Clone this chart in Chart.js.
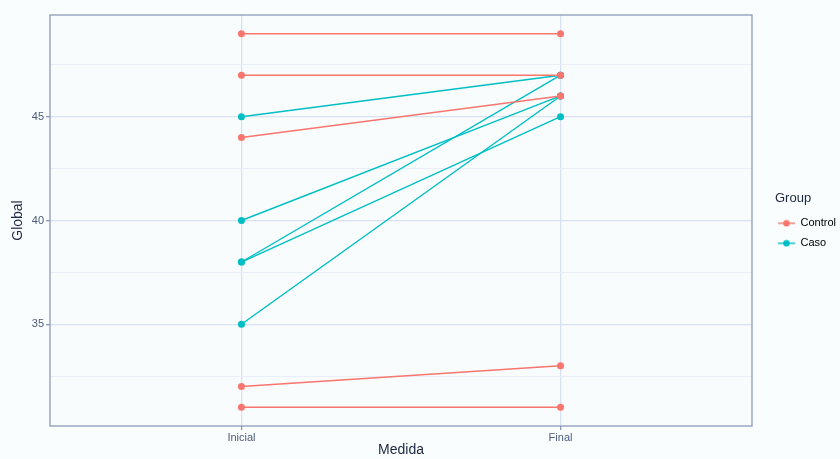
<!DOCTYPE html>
<html>
<head>
<meta charset="utf-8">
<script src="https://cdn.jsdelivr.net/npm/chart.js@4/dist/chart.umd.min.js"></script>
<style>
  html, body { margin: 0; padding: 0; background: #f9fdfd; }
  #wrap { width: 840px; height: 459px; }
</style>
</head>
<body>
<div id="wrap"><canvas id="chart" width="840" height="459"></canvas></div>
<script>
// values
var measures = ['Inicial', 'Final'];
var groups = ['Control', 'Caso'];
var groupColors = ['#F8766D', '#00BFC4'];
var controlInicial = [49, 47, 44, 32, 31];
var controlFinal = [49, 47, 46, 33, 31];
var casoInicial = [45, 40, 38, 38, 35];
var casoFinal = [47, 46, 47, 45, 46];
var yMajor = [35, 40, 45];
var yMinor = [32.5, 37.5, 42.5, 47.5];

var fontFamily = "'Liberation Sans', Arial, sans-serif";
var tickColor = '#4d5b7c';
var titleColor = '#1d2742';
var borderColor = '#8c9bb9';

// one line per subject
var datasets = [];
function addGroup(g, first, last) {
    for (var i = 0; i < first.length; i++) {
        datasets.push({
            label: groups[g],
            data: [{ x: 1, y: first[i] }, { x: 2, y: last[i] }],
            borderColor: groupColors[g],
            backgroundColor: groupColors[g],
            borderWidth: 1.4,
            pointRadius: 3.5,
            pointBorderWidth: 0,
            pointHoverRadius: 3.5,
            fill: false
        });
    }
}
addGroup(0, controlInicial, controlFinal);
addGroup(1, casoInicial, casoFinal);

// legend key: small line with a dot, like ggplot
function keyGlyph(color) {
    var c = document.createElement('canvas');
    c.width = 17;
    c.height = 8;
    var ctx = c.getContext('2d');
    ctx.strokeStyle = color;
    ctx.lineWidth = 1.4;
    ctx.beginPath();
    ctx.moveTo(0, 4);
    ctx.lineTo(17, 4);
    ctx.stroke();
    ctx.fillStyle = color;
    ctx.beginPath();
    ctx.arc(8.5, 4, 3.3, 0, Math.PI * 2);
    ctx.fill();
    return c;
}

var panelBorder = {
    id: 'panelBorder',
    beforeDraw: function (chart) {
        var a = chart.chartArea;
        var ctx = chart.ctx;
        ctx.save();
        ctx.fillStyle = '#f8fcfd';
        ctx.fillRect(a.left, a.top, a.right - a.left, a.bottom - a.top);
        ctx.restore();
    },
    afterDraw: function (chart) {
        var a = chart.chartArea;
        var ctx = chart.ctx;
        ctx.save();
        ctx.strokeStyle = borderColor;
        ctx.lineWidth = 1.3;
        ctx.strokeRect(a.left, a.top, a.right - a.left, a.bottom - a.top);
        ctx.restore();
    }
};

// keep the legend column at a fixed width and nudge it like ggplot's guide box
var legendWidth = {
    id: 'legendWidth',
    afterInit: function (chart) {
        var lg = chart.legend;
        var fit = lg.fit;
        var draw = lg.draw;
        var drawTitle = lg.drawTitle;
        lg.fit = function () {
            fit.call(this);
            this.width = 88;
        };
        lg.draw = function () {
            this.ctx.save();
            this.ctx.translate(17, -12);
            draw.call(this);
            this.ctx.restore();
        };
        lg.drawTitle = function () {
            this.ctx.save();
            this.ctx.translate(6, 0);
            drawTitle.call(this);
            this.ctx.restore();
        };
    }
};

var ctx = document.getElementById('chart').getContext('2d');
var chart = new Chart(ctx, {
    type: 'line',
    data: { datasets: datasets },
    plugins: [panelBorder, legendWidth],
    options: {
        responsive: false,
        animation: false,
        layout: { padding: { top: 15, right: 0, left: 0, bottom: 0 } },
        plugins: {
            tooltip: { enabled: false },
            legend: {
                position: 'right',
                align: 'center',
                title: {
                    display: true,
                    text: 'Group',
                    position: 'start',
                    color: titleColor,
                    font: { family: fontFamily, size: 13 },
                    padding: { top: 0, bottom: 1, left: 0 }
                },
                labels: {
                    usePointStyle: true,
                    pointStyleWidth: 17,
                    boxHeight: 11,
                    padding: 9,
                    color: titleColor,
                    font: { family: fontFamily, size: 11 },
                    generateLabels: function () {
                        return groups.map(function (g, i) {
                            return {
                                text: g,
                                pointStyle: keyGlyph(groupColors[i]),
                                fillStyle: groupColors[i],
                                strokeStyle: groupColors[i],
                                lineWidth: 0,
                                hidden: false,
                                datasetIndex: i
                            };
                        });
                    }
                }
            }
        },
        scales: {
            x: {
                type: 'linear',
                min: 0.4,
                max: 2.6,
                afterBuildTicks: function (scale) {
                    scale.ticks = measures.map(function (m, i) { return { value: i + 1 }; });
                },
                afterFit: function (scale) { scale.height = 33; },
                ticks: {
                    color: tickColor,
                    font: { family: fontFamily, size: 11 },
                    padding: 1,
                    maxRotation: 0,
                    callback: function (v) { return measures[v - 1]; }
                },
                grid: {
                    color: '#d9e1f4',
                    lineWidth: 1.3,
                    tickLength: 4,
                    tickColor: borderColor
                },
                border: { display: false },
                title: {
                    display: true,
                    text: 'Medida',
                    color: titleColor,
                    font: { family: fontFamily, size: 14 },
                    padding: { top: 0, bottom: 0 }
                }
            },
            y: {
                type: 'linear',
                min: 30.1,
                max: 49.9,
                afterBuildTicks: function (scale) {
                    scale.ticks = yMinor.concat(yMajor).sort(function (a, b) { return a - b; })
                        .map(function (v) { return { value: v }; });
                },
                afterFit: function (scale) { scale.width = 50; },
                ticks: {
                    color: tickColor,
                    font: { family: fontFamily, size: 11 },
                    padding: 2,
                    callback: function (v) { return yMajor.indexOf(v) >= 0 ? String(v) : ''; }
                },
                grid: {
                    color: function (c) { return yMajor.indexOf(c.tick.value) >= 0 ? '#d9e1f4' : '#e9eef8'; },
                    lineWidth: function (c) { return yMajor.indexOf(c.tick.value) >= 0 ? 1.3 : 1; },
                    tickLength: 4,
                    tickColor: function (c) { return yMajor.indexOf(c.tick.value) >= 0 ? borderColor : 'rgba(0,0,0,0)'; }
                },
                border: { display: false },
                title: {
                    display: true,
                    text: 'Global',
                    color: titleColor,
                    font: { family: fontFamily, size: 14 },
                    padding: { top: 10, bottom: 0 }
                }
            }
        }
    }
});
</script>
</body>
</html>
